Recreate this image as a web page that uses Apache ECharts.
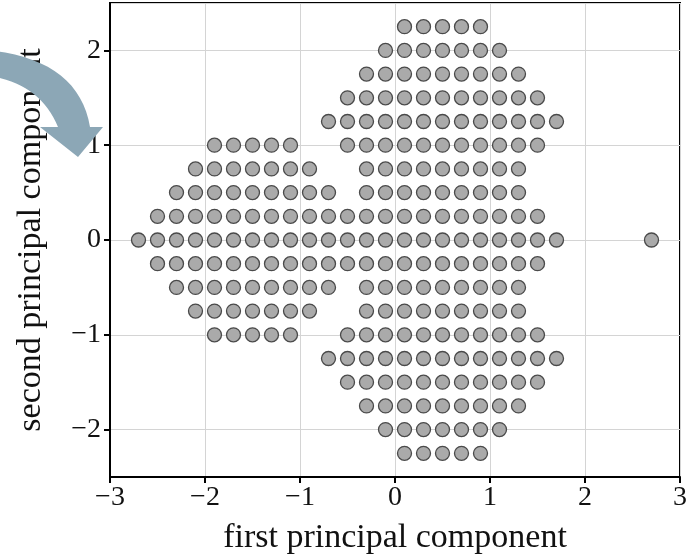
<!DOCTYPE html>
<html>
<head>
<meta charset="utf-8">
<script src="https://cdn.jsdelivr.net/npm/echarts@6/dist/echarts.min.js"></script>
<style>
  html, body { margin: 0; padding: 0; background: #fff; }
  #chart { width: 692px; height: 560px; }
</style>
</head>
<body>
<div id="chart"></div>
<script>
// row heights (second principal component) and the x positions of the dots in each row
const rowY = [2.25, 2.0, 1.75, 1.5, 1.25, 1.0, 0.75, 0.5, 0.25, 0,
  -0.25, -0.5, -0.75, -1.0, -1.25, -1.5, -1.75, -2.0, -2.25];

const rowX = [
  [0.1, 0.3, 0.5, 0.7, 0.9],
  [-0.1, 0.1, 0.3, 0.5, 0.7, 0.9, 1.1],
  [-0.3, -0.1, 0.1, 0.3, 0.5, 0.7, 0.9, 1.1, 1.3],
  [-0.5, -0.3, -0.1, 0.1, 0.3, 0.5, 0.7, 0.9, 1.1, 1.3, 1.5],
  [-0.7, -0.5, -0.3, -0.1, 0.1, 0.3, 0.5, 0.7, 0.9, 1.1, 1.3, 1.5, 1.7],
  [-1.9, -1.7, -1.5, -1.3, -1.1, -0.5, -0.3, -0.1, 0.1, 0.3, 0.5, 0.7, 0.9, 1.1, 1.3, 1.5],
  [-2.1, -1.9, -1.7, -1.5, -1.3, -1.1, -0.9, -0.3, -0.1, 0.1, 0.3, 0.5, 0.7, 0.9, 1.1, 1.3],
  [-2.3, -2.1, -1.9, -1.7, -1.5, -1.3, -1.1, -0.9, -0.7, -0.3, -0.1, 0.1, 0.3, 0.5, 0.7, 0.9, 1.1, 1.3],
  [-2.5, -2.3, -2.1, -1.9, -1.7, -1.5, -1.3, -1.1, -0.9, -0.7, -0.5, -0.3, -0.1, 0.1, 0.3, 0.5, 0.7, 0.9, 1.1, 1.3, 1.5],
  [-2.7, -2.5, -2.3, -2.1, -1.9, -1.7, -1.5, -1.3, -1.1, -0.9, -0.7, -0.5, -0.3, -0.1, 0.1, 0.3, 0.5, 0.7, 0.9, 1.1, 1.3, 1.5, 1.7, 2.7],
  [-2.5, -2.3, -2.1, -1.9, -1.7, -1.5, -1.3, -1.1, -0.9, -0.7, -0.5, -0.3, -0.1, 0.1, 0.3, 0.5, 0.7, 0.9, 1.1, 1.3, 1.5],
  [-2.3, -2.1, -1.9, -1.7, -1.5, -1.3, -1.1, -0.9, -0.7, -0.3, -0.1, 0.1, 0.3, 0.5, 0.7, 0.9, 1.1, 1.3],
  [-2.1, -1.9, -1.7, -1.5, -1.3, -1.1, -0.9, -0.3, -0.1, 0.1, 0.3, 0.5, 0.7, 0.9, 1.1, 1.3],
  [-1.9, -1.7, -1.5, -1.3, -1.1, -0.5, -0.3, -0.1, 0.1, 0.3, 0.5, 0.7, 0.9, 1.1, 1.3, 1.5],
  [-0.7, -0.5, -0.3, -0.1, 0.1, 0.3, 0.5, 0.7, 0.9, 1.1, 1.3, 1.5, 1.7],
  [-0.5, -0.3, -0.1, 0.1, 0.3, 0.5, 0.7, 0.9, 1.1, 1.3, 1.5],
  [-0.3, -0.1, 0.1, 0.3, 0.5, 0.7, 0.9, 1.1, 1.3],
  [-0.1, 0.1, 0.3, 0.5, 0.7, 0.9, 1.1],
  [0.1, 0.3, 0.5, 0.7, 0.9],
];

const xTicks = [-3, -2, -1, 0, 1, 2, 3];

const points = rowY.flatMap((y, i) => rowX[i].map((x) => [x, y]));

const font = "'Liberation Serif', 'DejaVu Serif', serif";
const minus = (v) => String(v).replace("-", "\u2212");

/** sample a quadratic curve for the decorative arrow outline */
const quad = (p0, c, p1, n = 16) => {
  const out = [];
  for (let i = 0; i <= n; i++) {
    const t = i / n, u = 1 - t;
    out.push([
      u * u * p0[0] + 2 * u * t * c[0] + t * t * p1[0],
      u * u * p0[1] + 2 * u * t * c[1] + t * t * p1[1],
    ]);
  }
  return out;
};

const arrowPoints = [
  ...quad([-5, 51], [79, 62], [90, 127]),
  [103, 127], [78, 157], [40, 127],
  ...quad([58, 127], [41, 86], [-5, 77]),
];

const chart = echarts.init(document.getElementById("chart"), null, { renderer: "canvas" });

chart.setOption({
  animation: false,
  grid: {
    left: 110, right: 12, top: 3, bottom: 81,
    show: true, borderColor: "#000", borderWidth: 2,
    backgroundColor: "transparent",
  },
  xAxis: {
    type: "value",
    min: xTicks[0],
    max: xTicks[xTicks.length - 1],
    interval: 1,
    name: "first principal component",
    nameLocation: "middle",
    nameGap: 44,
    nameTextStyle: { fontFamily: font, fontSize: 34, color: "#111" },
    axisLine: { show: true, onZero: false, lineStyle: { color: "#000", width: 2 } },
    axisTick: { show: true, inside: false, length: 6, lineStyle: { color: "#000", width: 2 } },
    axisLabel: { fontFamily: font, fontSize: 28, color: "#111", margin: 7, formatter: minus },
    splitLine: { show: true, lineStyle: { color: "#d4d4d4", width: 1 } },
  },
  yAxis: {
    type: "value",
    min: -2.5,
    max: 2.5,
    splitNumber: 5,
    name: "second principal component",
    nameLocation: "middle",
    nameGap: 62,
    nameTextStyle: { fontFamily: font, fontSize: 34, color: "#111" },
    axisLine: { show: true, onZero: false, lineStyle: { color: "#000", width: 2 } },
    axisTick: { show: true, inside: false, length: 6, lineStyle: { color: "#000", width: 2 } },
    axisLabel: {
      fontFamily: font, fontSize: 28, color: "#111", margin: 9,
      showMinLabel: false, showMaxLabel: false, formatter: minus,
    },
    splitLine: { show: true, lineStyle: { color: "#d4d4d4", width: 1 } },
  },
  series: [
    {
      type: "scatter",
      data: points,
      symbol: "circle",
      symbolSize: 14,
      itemStyle: { color: "#aaaaaa", borderColor: "#4a4a4a", borderWidth: 1.3, opacity: 1 },
      z: 3,
    },
  ],
  graphic: [
    {
      type: "polygon",
      z: 100,
      shape: { points: arrowPoints },
      style: { fill: "#8ca7b6" },
    },
  ],
});
</script>
</body>
</html>
